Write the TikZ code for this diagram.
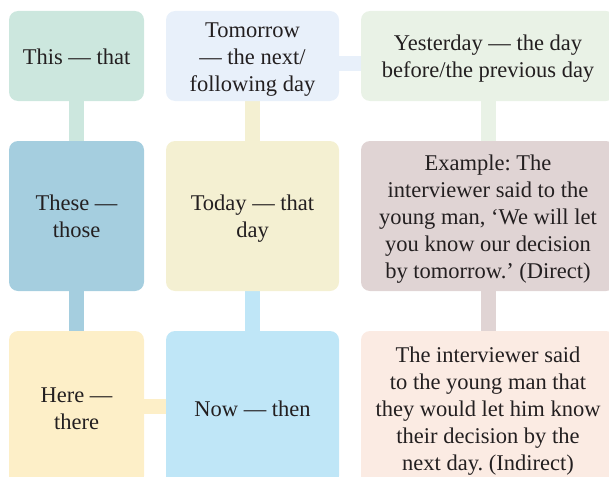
\documentclass[tikz,border=0pt]{standalone}
\usepackage{fontspec}
\setmainfont{Liberation Serif}
\usetikzlibrary{backgrounds}
\definecolor{cThis}{HTML}{CCE7DE}
\definecolor{cTom}{HTML}{E8F0FA}
\definecolor{cYes}{HTML}{E9F2E6}
\definecolor{cThese}{HTML}{A5CEDF}
\definecolor{cToday}{HTML}{F4F0D2}
\definecolor{cEx}{HTML}{E0D4D4}
\definecolor{cHere}{HTML}{FDEFC8}
\definecolor{cNow}{HTML}{BFE6F7}
\definecolor{cInd}{HTML}{FBEBE3}
\definecolor{txt}{HTML}{231F20}
\newcommand\tstr{\rule{0pt}{25pt}}
\newcommand\bstr{\rule[-8.5pt]{0pt}{8.5pt}}
\frenchspacing
\begin{document}
\begin{tikzpicture}[x=1pt,y=-1pt,
  box/.style={rounded corners=9pt, inner sep=0pt, align=center,
    font=\fontsize{22.5}{27}\selectfont, text=txt},
  colA/.style={box, minimum width=135pt},
  colB/.style={box, minimum width=173pt},
  colC/.style={box, minimum width=254pt},
  rowA/.style={minimum height=90pt},
  rowB/.style={minimum height=150pt},
  rowC/.style={minimum height=154pt},
  link/.style={line width=15pt}]
\useasboundingbox (0,0) rectangle (609,476);
\clip (0,0) rectangle (609,476);
\node[colA,rowA,fill=cThis] (this) at (76.5,56) {\tstr This — that\bstr};
\node[colB,rowA,fill=cTom] (tom) at (252.5,56) {\tstr Tomorrow\\— the next/\\following day\bstr};
\node[colC,rowA,fill=cYes] (yes) at (488,56) {\tstr Yesterday — the day\\before/the previous day\bstr};
\node[colA,rowB,fill=cThese] (these) at (76.5,216) {\tstr These —\\those\bstr};
\node[colB,rowB,fill=cToday] (today) at (252.5,216) {\tstr Today — that\\day\bstr};
\node[colC,rowB,fill=cEx] (ex) at (488,216) {\tstr Example: The\\interviewer said to the\\young man, ‘We will let\\you know our decision\\by tomorrow.’ (Direct)\bstr};
\node[colA,rowC,fill=cHere] (here) at (76.5,408) {\tstr Here —\\there\bstr};
\node[colB,rowC,fill=cNow] (now) at (252.5,408) {\tstr Now — then\bstr};
\node[colC,rowC,fill=cInd] (ind) at (488,408) {\tstr The interviewer said\\to the young man that\\they would let him know\\their decision by the\\next day. (Indirect)\bstr};
\begin{pgfonlayer}{background}
\draw[link,cThis] (this) -- (these);
\draw[link,cThese] (these) -- (here);
\draw[link,cToday] (tom) -- (today);
\draw[link,cNow] (today) -- (now);
\draw[link,cTom] ([yshift=-7.5pt]tom.center) -- ([yshift=-7.5pt]yes.center);
\draw[link,cYes] (yes) -- (ex);
\draw[link,cEx] (ex) -- (ind);
\draw[link,cHere] ([yshift=1.5pt]here.center) -- ([yshift=1.5pt]now.center);
\end{pgfonlayer}
\end{tikzpicture}
\end{document}
